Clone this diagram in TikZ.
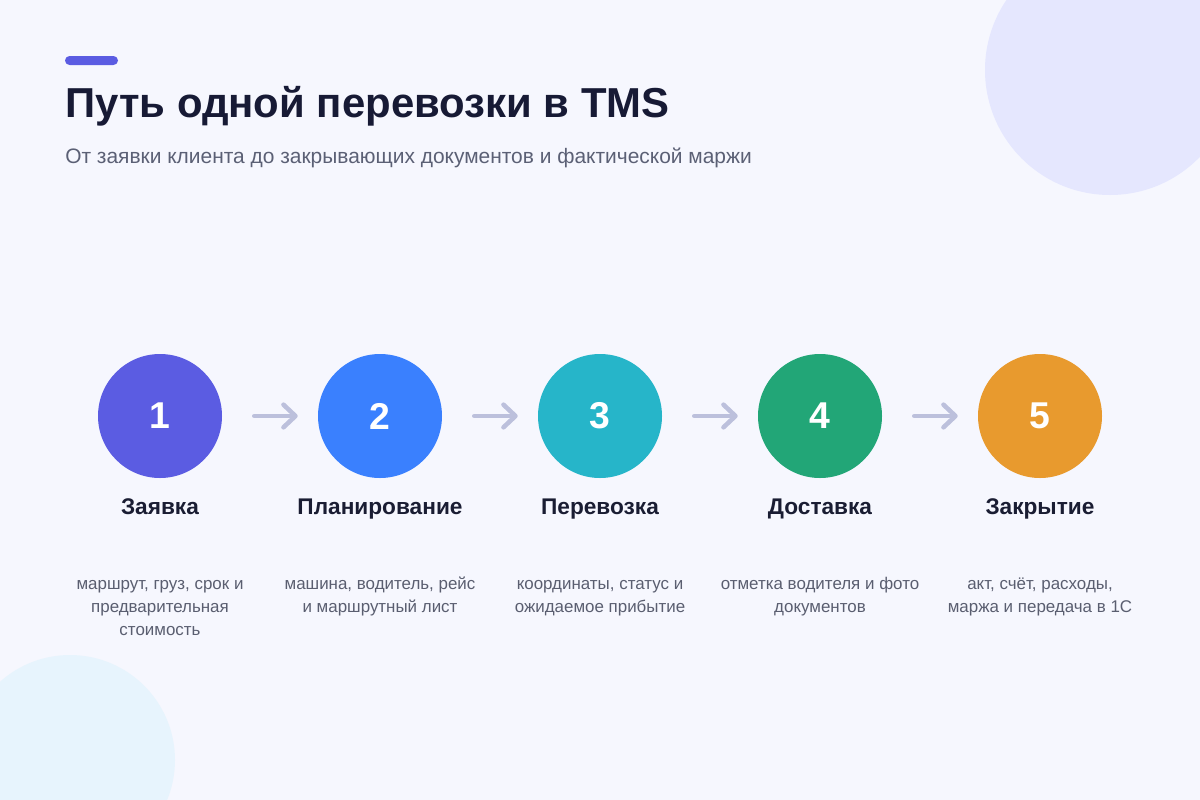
\documentclass[tikz,border=0pt]{standalone}
\usepackage{fontspec}
\setmainfont{Liberation Sans}
\usetikzlibrary{arrows.meta}
\definecolor{bg}{HTML}{F6F7FE}
\definecolor{blobA}{HTML}{E5E7FE}
\definecolor{blobB}{HTML}{E7F4FD}
\definecolor{accent}{HTML}{5B5CE2}
\definecolor{titlec}{HTML}{171A35}
\definecolor{subc}{HTML}{5B6075}
\definecolor{labc}{HTML}{1A1D33}
\definecolor{descc}{HTML}{5A5E70}
\definecolor{arrc}{HTML}{BCC0DC}
\definecolor{cA}{HTML}{5B5CE2}
\definecolor{cB}{HTML}{3A80FE}
\definecolor{cC}{HTML}{26B5C9}
\definecolor{cD}{HTML}{22A677}
\definecolor{cE}{HTML}{E89A2E}
\begin{document}
\begin{tikzpicture}[x=0.75pt,y=-0.75pt,
  stepcircle/.style={circle,minimum size=93pt,inner sep=0pt,text=white,font=\fontsize{28}{30}\selectfont\bfseries},
  steplabel/.style={anchor=base,inner sep=0pt,text=labc,font=\fontsize{17}{19}\selectfont\bfseries},
  stepdesc/.style={anchor=north,inner sep=0pt,align=center,text=descc,font=\fontsize{12.7}{17.25}\selectfont},
  flow/.style={draw=arrc,line width=3.4pt,line cap=round,shorten <=24pt,shorten >=15pt,
    -{Straight Barb[length=9pt,width=17pt,line width=3.4pt,line cap=round,line join=round]}}]
\useasboundingbox (0,0) rectangle (1200,800);
\fill[bg] (0,0) rectangle (1200,800);
\begin{scope}
\clip (0,0) rectangle (1200,800);
\fill[blobA] (1110,70) circle[radius=93.75pt];
\fill[blobB] (70,760) circle[radius=78.75pt];
\end{scope}
\fill[accent,rounded corners=3.4pt] (65,56) rectangle (118,65);
\node[anchor=base west,inner sep=0pt,text=titlec,font=\fontsize{31.4}{34}\selectfont\bfseries] (title) at (65,117) {Путь одной перевозки в TMS};
\node[anchor=base west,inner sep=0pt,text=subc,font=\fontsize{15.7}{18}\selectfont] (subtitle) at (65,163) {От заявки клиента до закрывающих документов и фактической маржи};
\node[stepcircle,fill=cA] (c1) at (160,416) {1};
\node[stepcircle,fill=cB] (c2) at (380,416) {2};
\node[stepcircle,fill=cC] (c3) at (600,416) {3};
\node[stepcircle,fill=cD] (c4) at (820,416) {4};
\node[stepcircle,fill=cE] (c5) at (1040,416) {5};
\draw[flow] (c1) -- (c2);
\draw[flow] (c2) -- (c3);
\draw[flow] (c3) -- (c4);
\draw[flow] (c4) -- (c5);
\node[steplabel] (l1) at (160,514) {Заявка};
\node[steplabel] (l2) at (380,514) {Планирование};
\node[steplabel] (l3) at (600,514) {Перевозка};
\node[steplabel] (l4) at (820,514) {Доставка};
\node[steplabel] (l5) at (1040,514) {Закрытие};
\node[stepdesc] (d1) at (160,573) {\strut маршрут, груз, срок и\\предварительная\\стоимость};
\node[stepdesc] (d2) at (380,573) {\strut машина, водитель, рейс\\и маршрутный лист};
\node[stepdesc] (d3) at (600,573) {\strut координаты, статус и\\ожидаемое прибытие};
\node[stepdesc] (d4) at (820,573) {\strut отметка водителя и фото\\документов};
\node[stepdesc] (d5) at (1040,573) {\strut акт, счёт, расходы,\\маржа и передача в 1С};
\end{tikzpicture}
\end{document}
